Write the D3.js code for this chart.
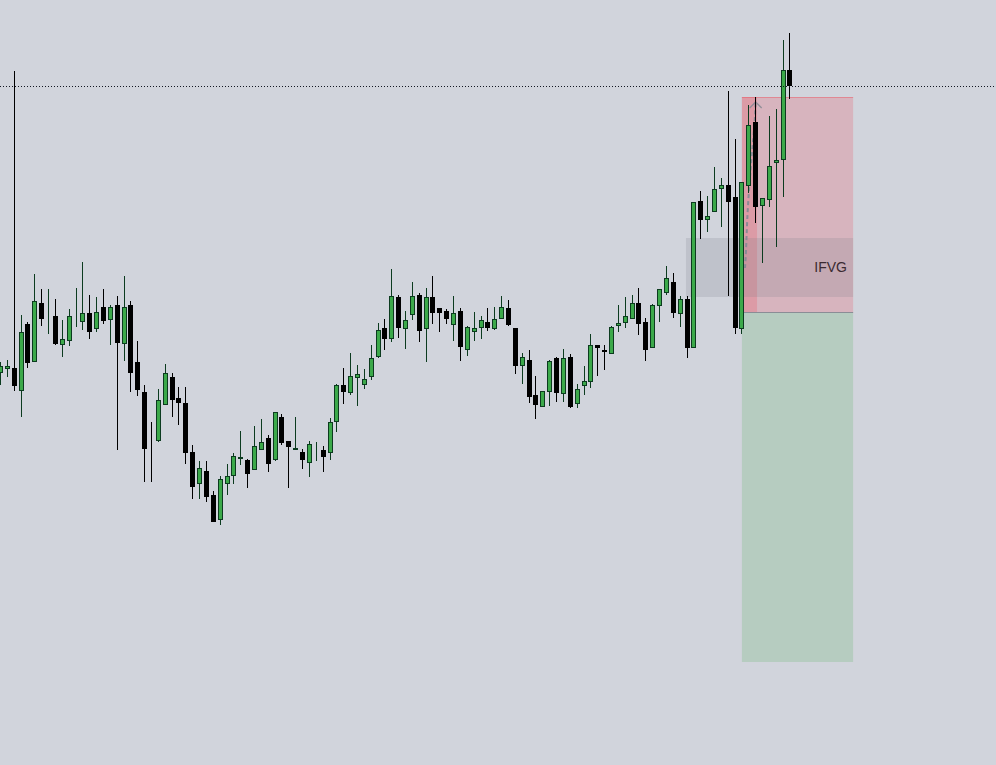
<!DOCTYPE html>
<html><head><meta charset="utf-8">
<script src="https://cdn.jsdelivr.net/npm/d3@7"></script>
<style>html,body{margin:0;padding:0;background:#d1d4dc;overflow:hidden}svg{display:block}</style>
</head><body>
<svg id="chart" width="996" height="765"></svg>
<script>
// ---- Data (price units; bars numbered 1..116) ----
const opens  = [427,431,432,409,476,438,497,485,484,455,459,478,478,487,471,493,480,495,456,495,438,408,355,359,395,423,402,397,348,316,329,305,280,316,324,341,340,330,350,362,340,383,359,350,348,337,351,350,347,378,415,407,422,415,423,443,472,461,503,471,485,505,471,503,492,489,475,489,450,468,472,478,471,481,492,472,434,440,405,393,408,442,406,443,396,414,418,455,450,446,474,477,481,497,478,452,494,507,518,486,501,452,599,580,588,611,615,603,471,614,678,594,600,637,640,730];
const highs  = [438,440,729,485,478,526,511,511,501,480,491,512,538,505,503,511,495,504,524,499,459,415,378,411,436,427,413,413,355,339,339,309,324,336,347,369,341,374,381,365,388,386,359,383,351,359,358,354,382,416,432,447,435,431,455,477,481,531,505,489,518,507,512,524,492,491,504,492,474,488,484,492,493,504,500,472,447,450,424,409,440,443,451,446,416,434,466,455,455,474,495,503,505,512,482,496,511,534,527,504,504,598,609,604,633,622,709,661,618,695,703,602,684,691,760,767];
const lows   = [415,423,409,383,432,438,474,466,455,443,454,473,470,461,468,476,455,350,439,408,404,318,318,358,395,383,375,336,301,301,298,278,275,305,316,335,312,330,350,328,339,355,312,350,331,323,339,328,340,368,396,405,394,411,420,442,450,458,462,451,480,458,438,476,468,476,459,439,444,459,461,469,470,481,474,426,416,397,381,393,394,398,398,392,392,405,412,424,430,446,468,472,481,465,439,452,478,505,482,473,442,452,561,568,588,573,504,466,466,607,577,537,593,553,603,701];
const closes = [434,434,414,468,437,499,481,485,456,461,484,478,487,468,488,479,493,457,493,427,410,351,354,400,427,400,397,347,313,332,303,278,321,324,344,343,326,354,358,336,388,357,353,352,340,356,351,343,378,415,408,424,426,421,442,470,461,504,472,480,504,469,503,487,487,481,487,453,473,472,480,472,481,493,475,434,443,403,395,409,439,407,442,393,411,419,455,452,448,473,477,484,497,476,450,495,511,522,487,501,452,598,580,584,611,615,598,472,618,675,593,602,634,640,730,714];

// Trade-position / gap annotation levels
const positionBars = [109, 125.2];       // start bar, end bar
const stopPrice = 703, entryPrice = 487, targetPrice = 138;
const entryStripBars = [109, 111.2];
const gapBars = [100.85, 125.2];
const gapPrices = [562, 503];            // top, bottom
const gapLabel = "IFVG";
const gapLabelBar = 124.3, gapLabelPrice = 528;
const pathBars   = [109.45, 109.6, 109.75, 110.05, 110.45, 110.85, 111.0];
const pathPrices = [532, 547, 580, 613, 647, 675, 697];

// ---- Scales ----
const W = 996, H = 765;
const n = opens.length;
const x = d3.scaleLinear().domain([1, 116]).range([0.5, 0.5 + 6.865 * 115]);
const y = d3.scaleLinear().domain([0, 800]).range([800, 0]);

const svg = d3.select("#chart");
svg.append("rect").attr("width", W).attr("height", H).attr("fill", "#d1d4dc");

// ---- Annotation boxes ----
const g0 = svg.append("g");
g0.append("rect")
  .attr("x", x(positionBars[0])).attr("width", x(positionBars[1]) - x(positionBars[0]))
  .attr("y", y(entryPrice)).attr("height", y(targetPrice) - y(entryPrice))
  .attr("fill", "rgba(76,175,80,0.2)");
g0.append("rect")
  .attr("x", x(positionBars[0])).attr("width", x(positionBars[1]) - x(positionBars[0]))
  .attr("y", y(stopPrice)).attr("height", y(entryPrice) - y(stopPrice))
  .attr("fill", "rgba(242,54,69,0.2)");
g0.append("rect")
  .attr("x", x(entryStripBars[0])).attr("width", x(entryStripBars[1]) - x(entryStripBars[0]))
  .attr("y", y(stopPrice)).attr("height", y(entryPrice) - y(stopPrice))
  .attr("fill", "rgba(242,54,69,0.2)");
g0.append("rect")
  .attr("x", x(gapBars[0])).attr("width", x(gapBars[1]) - x(gapBars[0]))
  .attr("y", y(gapPrices[0])).attr("height", y(gapPrices[1]) - y(gapPrices[0]))
  .attr("fill", "rgba(120,123,134,0.2)");
g0.append("line")
  .attr("x1", x(positionBars[0])).attr("x2", x(positionBars[1]))
  .attr("y1", Math.round(y(stopPrice)) + 0.5).attr("y2", Math.round(y(stopPrice)) + 0.5)
  .attr("stroke", "rgba(242,54,69,0.35)").attr("stroke-width", 1);
g0.append("line")
  .attr("x1", x(positionBars[0])).attr("x2", x(positionBars[1]))
  .attr("y1", Math.round(y(entryPrice)) - 0.5).attr("y2", Math.round(y(entryPrice)) - 0.5)
  .attr("stroke", "#8a8d96").attr("stroke-width", 1);

g0.append("text")
  .attr("x", x(gapLabelBar)).attr("y", y(gapLabelPrice))
  .attr("text-anchor", "end")
  .attr("font-family", "'Liberation Sans', Arial, sans-serif")
  .attr("font-size", 14)
  .attr("fill", "#3b2a31")
  .text(gapLabel);

const pts = pathBars.map((b, i) => [x(b), y(pathPrices[i])]);
g0.append("path")
  .attr("d", d3.line().curve(d3.curveBasis)(pts))
  .attr("fill", "none").attr("stroke", "rgba(135,137,148,0.95)")
  .attr("stroke-width", 2).attr("stroke-dasharray", "4,3");
const tip = pts[pts.length - 1];
g0.append("path")
  .attr("d", `M${tip[0] - 6},${tip[1] + 5}L${tip[0]},${tip[1] - 1}L${tip[0] + 6},${tip[1] + 5}`)
  .attr("fill", "none").attr("stroke", "rgba(135,137,148,0.9)").attr("stroke-width", 1.3);

// ---- Candles ----
const data = d3.range(n).map(i => ({i: i + 1, o: opens[i], h: highs[i], l: lows[i], c: closes[i]}));
const gc = svg.append("g");
const up = "#3ca94a", upEdge = "#0c3b1f", dn = "#000000";

const cg = gc.selectAll("g.c").data(data).join("g").attr("class", "c");
cg.append("line")
  .attr("x1", d => Math.floor(x(d.i)) + 0.5).attr("x2", d => Math.floor(x(d.i)) + 0.5)
  .attr("y1", d => Math.round(y(d.h))).attr("y2", d => Math.round(y(d.l)))
  .attr("stroke", d => d.c >= d.o ? upEdge : dn).attr("stroke-width", 1)
  .attr("shape-rendering", "crispEdges");
cg.append("rect")
  .attr("x", d => Math.floor(x(d.i)) - 1.5)
  .attr("width", 4)
  .attr("y", d => Math.round(y(Math.max(d.o, d.c))) + 0.5)
  .attr("height", d => Math.max(0, Math.round(y(Math.min(d.o, d.c))) - Math.round(y(Math.max(d.o, d.c))) - 1))
  .attr("fill", d => d.c >= d.o ? up : dn)
  .attr("stroke", d => d.c >= d.o ? upEdge : dn)
  .attr("stroke-width", 1);

// ---- Last price dotted line ----
const ly = Math.round(y(closes[n - 1])) + 0.5;
svg.append("line")
  .attr("x1", 0).attr("x2", W).attr("y1", ly).attr("y2", ly)
  .attr("stroke", "#131722").attr("stroke-width", 1).attr("stroke-dasharray", "1,2");
</script>
</body></html>
